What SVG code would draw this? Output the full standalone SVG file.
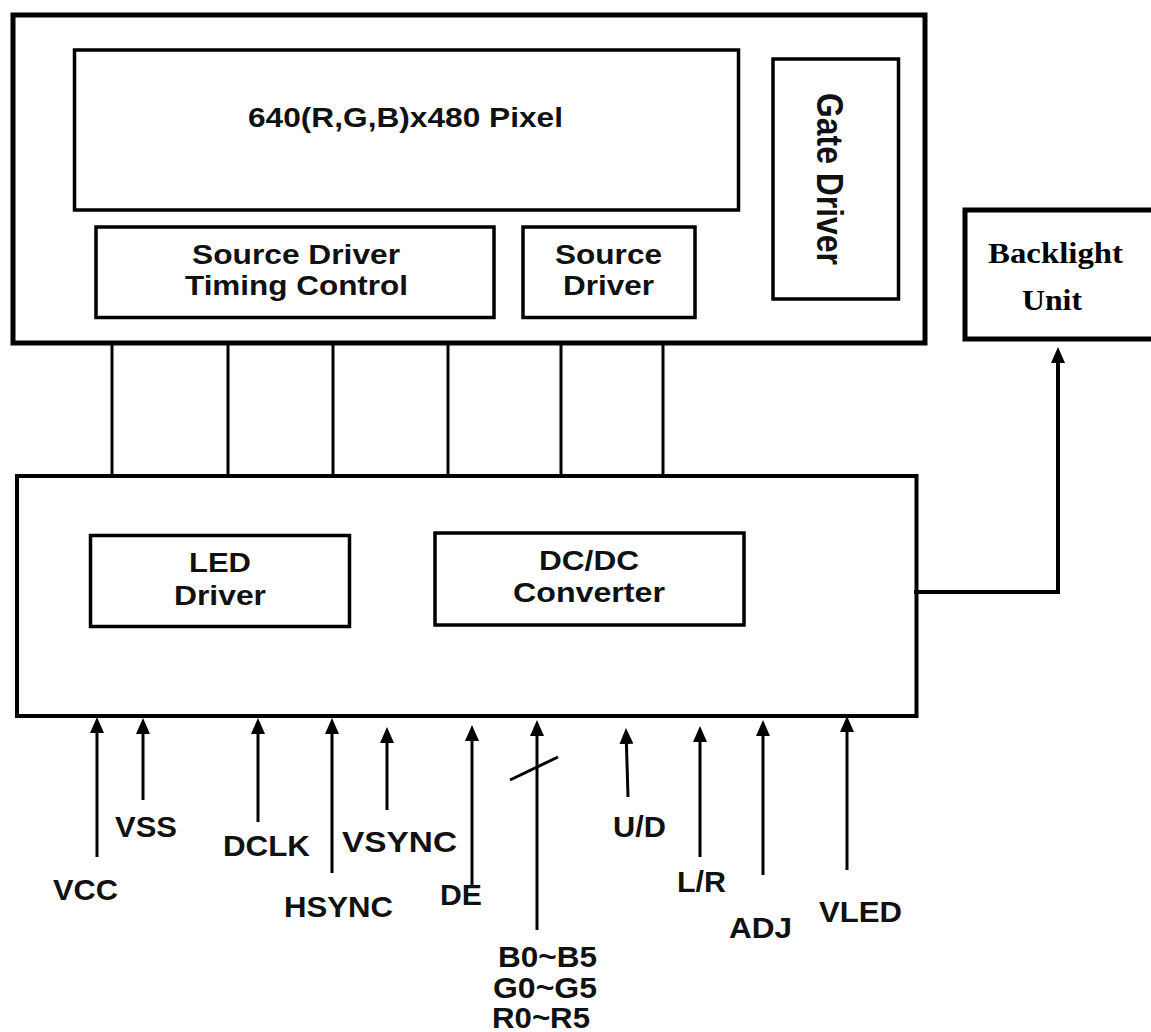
<svg xmlns="http://www.w3.org/2000/svg" width="1151" height="1032" viewBox="0 0 1151 1032">
  <defs>
    <style>
      .box { fill: #fff; stroke: #000; }
      .t { font-family: "Liberation Sans", Arial, sans-serif; font-weight: bold; fill: #111; font-size: 28px; }
      .lbl { font-family: "Liberation Sans", Arial, sans-serif; font-weight: bold; fill: #111; font-size: 30px; }
      .serif { font-family: "Liberation Serif", "Times New Roman", serif; font-weight: bold; fill: #000; font-size: 30px; }
      .wire { stroke: #000; stroke-width: 3; fill: none; }
      .arrow { stroke: #000; stroke-width: 3; fill: none; marker-end: url(#ah); }
    </style>
    <marker id="ah" markerUnits="userSpaceOnUse" markerWidth="16" markerHeight="14" viewBox="0 0 16 14" refX="8" refY="7" orient="auto">
      <path d="M0,0 L16,7 L0,14 z" fill="#000"/>
    </marker>
  </defs>
  <rect width="1151" height="1032" fill="#fff"/>

  <g id="lcd-panel">
    <rect class="box" x="13" y="15" width="912" height="328" stroke-width="5"/>
  </g>
  <g id="pixel-array">
    <rect class="box" x="74.5" y="50" width="664" height="160" stroke-width="3.5"/>
    <text class="t" x="248" y="127" textLength="315" lengthAdjust="spacingAndGlyphs">640(R,G,B)x480 Pixel</text>
  </g>
  <g id="source-driver-timing-control">
    <rect class="box" x="96" y="227" width="398" height="90.5" stroke-width="3.5"/>
    <text class="t" x="192" y="264" textLength="208" lengthAdjust="spacingAndGlyphs">Source Driver</text>
    <text class="t" x="185" y="295" textLength="223" lengthAdjust="spacingAndGlyphs">Timing Control</text>
  </g>
  <g id="source-driver">
    <rect class="box" x="523" y="227" width="172" height="90.5" stroke-width="3.5"/>
    <text class="t" x="555" y="264" textLength="107" lengthAdjust="spacingAndGlyphs">Source</text>
    <text class="t" x="563" y="295" textLength="91" lengthAdjust="spacingAndGlyphs">Driver</text>
  </g>
  <g id="gate-driver">
    <rect class="box" x="773" y="59" width="125.5" height="240" stroke-width="3.5"/>
    <text class="t" font-size="32" transform="translate(817,93) scale(1.13,1) rotate(90)" x="0" y="0" textLength="172" lengthAdjust="spacingAndGlyphs" style="font-size:32px">Gate Driver</text>
  </g>
  <g id="backlight-unit">
    <rect class="box" x="965" y="210" width="210" height="129" stroke-width="5"/>
    <text class="serif" x="988" y="263" textLength="135" lengthAdjust="spacingAndGlyphs">Backlight</text>
    <text class="serif" x="1022" y="310" textLength="60" lengthAdjust="spacingAndGlyphs">Unit</text>
  </g>
  <g id="control-board">
    <rect class="box" x="17" y="476" width="899.5" height="240" stroke-width="4"/>
  </g>
  <g id="led-driver">
    <rect class="box" x="90.5" y="535.5" width="259" height="91" stroke-width="3.5"/>
    <text class="t" x="189" y="572" textLength="62" lengthAdjust="spacingAndGlyphs">LED</text>
    <text class="t" x="174" y="605" textLength="92" lengthAdjust="spacingAndGlyphs">Driver</text>
  </g>
  <g id="dcdc-converter">
    <rect class="box" x="435" y="533" width="309" height="92" stroke-width="3.5"/>
    <text class="t" x="539" y="570" textLength="100" lengthAdjust="spacingAndGlyphs">DC/DC</text>
    <text class="t" x="513" y="602" textLength="152" lengthAdjust="spacingAndGlyphs">Converter</text>
  </g>

  <g id="connectors">
    <line class="wire" x1="112" y1="345" x2="112" y2="474"/>
    <line class="wire" x1="228" y1="345" x2="228" y2="474"/>
    <line class="wire" x1="333" y1="345" x2="333" y2="474"/>
    <line class="wire" x1="448" y1="345" x2="448" y2="474"/>
    <line class="wire" x1="561" y1="345" x2="561" y2="474"/>
    <line class="wire" x1="663" y1="345" x2="663" y2="474"/>
    <polyline class="arrow" stroke-width="4" style="stroke-width:4" points="914,592 1058,592 1058,355"/>
    <line class="arrow" x1="97" y1="857" x2="97" y2="725"/>
    <line class="arrow" x1="143" y1="800" x2="143" y2="726"/>
    <line class="arrow" x1="258" y1="822" x2="258" y2="726"/>
    <line class="arrow" x1="332" y1="873" x2="332" y2="726"/>
    <line class="arrow" x1="387" y1="810" x2="387" y2="735"/>
    <line class="arrow" x1="472" y1="887" x2="472" y2="733"/>
    <line class="arrow" x1="537" y1="930" x2="537" y2="728"/>
    <line class="wire" x1="510" y1="780" x2="558" y2="757"/>
    <line class="arrow" x1="628" y1="797" x2="626.2" y2="736"/>
    <line class="arrow" x1="700" y1="857" x2="700" y2="734"/>
    <line class="arrow" x1="763" y1="875" x2="763" y2="728"/>
    <line class="arrow" x1="847" y1="870" x2="847" y2="724"/>
  </g>

  <g id="signal-labels">
    <text class="lbl" x="53" y="900" textLength="65" lengthAdjust="spacingAndGlyphs">VCC</text>
    <text class="lbl" x="115" y="837" textLength="62" lengthAdjust="spacingAndGlyphs">VSS</text>
    <text class="lbl" x="223" y="856" textLength="87" lengthAdjust="spacingAndGlyphs">DCLK</text>
    <text class="lbl" x="284" y="917" textLength="109" lengthAdjust="spacingAndGlyphs">HSYNC</text>
    <text class="lbl" x="342" y="852" textLength="115" lengthAdjust="spacingAndGlyphs">VSYNC</text>
    <text class="lbl" x="440" y="905" textLength="42" lengthAdjust="spacingAndGlyphs">DE</text>
    <text class="lbl" x="498" y="967" textLength="99" lengthAdjust="spacingAndGlyphs">B0~B5</text>
    <text class="lbl" x="493" y="998" textLength="104" lengthAdjust="spacingAndGlyphs">G0~G5</text>
    <text class="lbl" x="492" y="1028" textLength="98" lengthAdjust="spacingAndGlyphs">R0~R5</text>
    <text class="lbl" x="613" y="837" textLength="53" lengthAdjust="spacingAndGlyphs">U/D</text>
    <text class="lbl" x="677" y="892" textLength="49" lengthAdjust="spacingAndGlyphs">L/R</text>
    <text class="lbl" x="729" y="938" textLength="63" lengthAdjust="spacingAndGlyphs">ADJ</text>
    <text class="lbl" x="819" y="922" textLength="83" lengthAdjust="spacingAndGlyphs">VLED</text>
  </g>
</svg>
